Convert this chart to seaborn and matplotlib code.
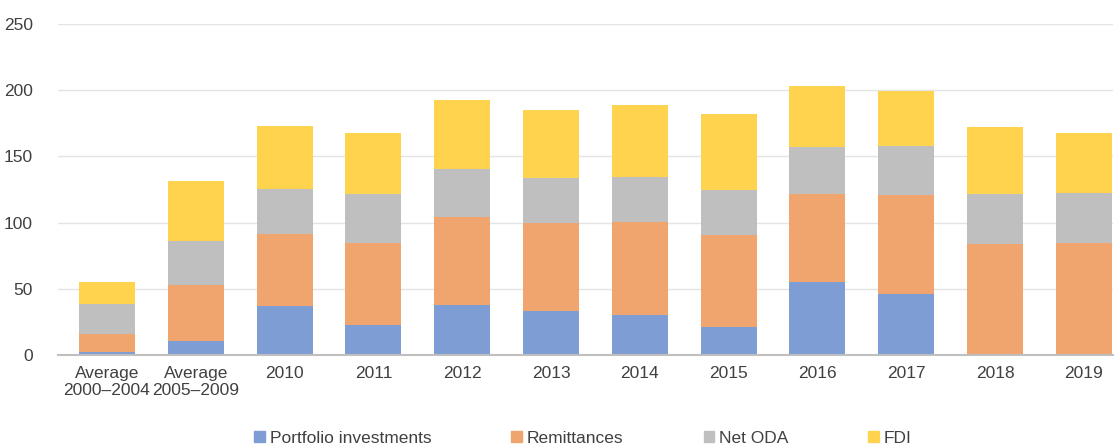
import matplotlib
matplotlib.use('Agg')

import matplotlib.pyplot as plt
import seaborn as sns
import numpy as np
from matplotlib.patches import Patch

# values
categories = ['Average\n2000–2004', 'Average\n2005–2009', '2010', '2011', '2012', '2013',
              '2014', '2015', '2016', '2017', '2018', '2019']
portfolio = [2.0, 10.3, 36.8, 22.9, 37.8, 33.5, 30.5, 21.1, 55.1, 45.8, 0.0, 0.0]
remittances = [14.1, 42.3, 54.8, 61.9, 66.2, 66.5, 70.2, 69.8, 66.2, 74.8, 84.1, 84.8]
net_oda = [22.4, 33.3, 34.0, 36.5, 36.5, 33.9, 34.0, 34.0, 35.8, 37.5, 37.2, 37.6]
fdi = [16.4, 45.3, 47.1, 46.4, 52.4, 51.4, 53.9, 57.1, 46.3, 41.3, 50.7, 45.5]

series_names = ['Portfolio investments', 'Remittances', 'Net ODA', 'FDI']
series_colors = ['#7E9DD5', '#F0A46E', '#BFBFBF', '#FFD34D']


def main():
    sns.set_style('white')
    plt.rcParams['font.family'] = ['Liberation Sans', 'DejaVu Sans']

    fig = plt.figure(figsize=(11.15, 4.47), dpi=100)
    ax = fig.add_axes([0.052, 0.206, 0.946, 0.740])

    # stack by drawing cumulative totals, tallest first
    layers = np.array([portfolio, remittances, net_oda, fdi])
    cums = np.cumsum(layers, axis=0)
    for i in range(3, -1, -1):
        sns.barplot(x=categories, y=cums[i], color=series_colors[i], saturation=1,
                    width=0.63, linewidth=0, ax=ax, zorder=2)

    ax.set_ylim(0, 250)
    ax.set_yticks(range(0, 251, 50))
    ax.set_xlim(-0.552, 11.327)
    ax.grid(axis='y', color='#E4E4E4', linewidth=1, zorder=0)
    ax.set_axisbelow(True)
    for s in ['top', 'right', 'left']:
        ax.spines[s].set_visible(False)
    ax.spines['bottom'].set_color('#BFBFBF')
    ax.spines['bottom'].set_linewidth(1.5)
    ax.tick_params(axis='both', length=0, labelsize=12.5, colors='#404040')
    ax.tick_params(axis='y', pad=18)
    ax.tick_params(axis='x', pad=8)
    ax.set_xlabel('')
    ax.set_ylabel('')

    handles = [Patch(color=c, label=n) for c, n in zip(series_colors, series_names)]
    fig.legend(handles=handles, loc='center', bbox_to_anchor=(0.523, 0.02), ncol=4,
               frameon=False, fontsize=12.5, handlelength=0.6, handleheight=0.6,
               handletextpad=0.3, columnspacing=4.6, labelcolor='#404040')

    fig.savefig('out.png', dpi=100)


if __name__ == "__main__":
    main()
